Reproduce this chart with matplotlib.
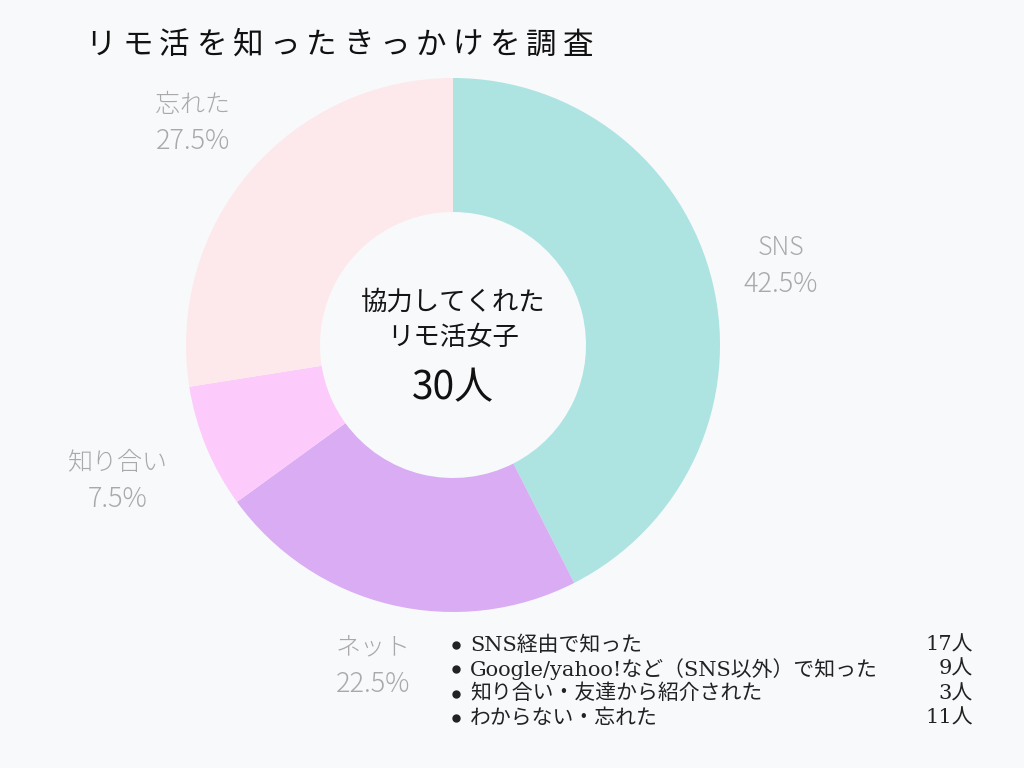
import matplotlib.pyplot as plt

plt.rcParams['font.family'] = ['Noto Sans CJK JP', 'DejaVu Sans']

title = 'リモ活を知ったきっかけを調査'
categories = ['SNS', 'ネット', '知り合い', '忘れた']
shares = [42.5, 22.5, 7.5, 27.5]
colors = ['#ade3e1', '#d9acf3', '#fdcafc', '#fde9ec']

legend_items = ['SNS経由で知った', 'Google/yahoo!など（SNS以外）で知った',
                '知り合い・友達から紹介された', 'わからない・忘れた']
legend_counts = [17, 9, 3, 11]
total = 30

bg = '#f8f9fb'
W, H = 1024, 768

fig = plt.figure(figsize=(W / 100, H / 100), dpi=100, facecolor=bg)
ax = fig.add_axes([0, 0, 1, 1])

def py(y):
    # pixel row (from top) -> data y
    return H - y

cx, cy, r = 453, 345, 267
ax.pie(shares, colors=colors, startangle=90, counterclock=False,
       center=(cx, py(cy)), radius=r, frame=True,
       wedgeprops=dict(width=r - 133, edgecolor='none'))
ax.set_xlim(0, W)
ax.set_ylim(0, H)
ax.set_aspect('equal')
ax.axis('off')

# title, spaced out characters
tx = 101
for ch in title:
    ax.text(tx, py(45), ch, fontsize=22, ha='center', va='center', color='#111111')
    tx += 36.7

# slice labels
gray = '#a9a9ab'
label_pos = {'SNS': (781, 248), 'ネット': (373, 648), '知り合い': (118, 463), '忘れた': (193, 105)}
for name, pct in zip(categories, shares):
    x, y = label_pos[name]
    ax.text(x, py(y), name, fontsize=18, ha='center', va='center', color=gray,
            fontweight='light')
    ax.text(x, py(y + 36), f'{pct}%', fontsize=19.5, ha='center', va='center',
            color=gray, fontweight='light')

# centre text
ax.text(cx, py(302), '協力してくれた', fontsize=19, ha='center', va='center', color='#151515')
ax.text(cx, py(337), 'リモ活女子', fontsize=19, ha='center', va='center', color='#151515')
ax.text(cx, py(388), f'{total}人', fontsize=28, ha='center', va='center', color='#111111')

# legend list
lfam = ['DejaVu Serif', 'Noto Sans CJK JP']
for i, (item, n) in enumerate(zip(legend_items, legend_counts)):
    y = py(645 + i * 24.3)
    ax.plot(456, y, 'o', color='#222222', markersize=5)
    ax.text(470, y, item, fontsize=15, ha='left', va='center', color='#222222', family=lfam)
    ax.text(973, y, f'{n}人', fontsize=15, ha='right', va='center', color='#222222', family=lfam)

fig.savefig('out.png', dpi=100, facecolor=bg)
